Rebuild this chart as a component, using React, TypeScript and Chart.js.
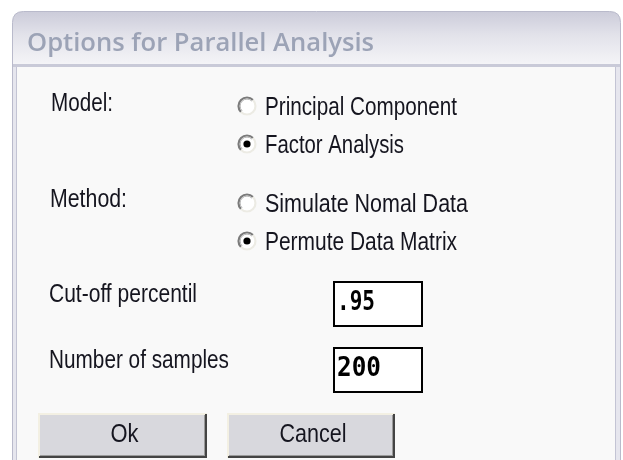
import React, { useEffect, useRef } from "react";
import { Chart, registerables } from "chart.js";

Chart.register(...registerables);

const dialogTitle = "Options for Parallel Analysis";
const groupLabels = ["Model:", "Method:"];
const modelOptions = ["Principal Component", "Factor Analysis"];
const methodOptions = ["Simulate Nomal Data", "Permute Data Matrix"];
const selectedIndex = [1, 1];
const fieldLabels = ["Cut-off percentil", "Number of samples"];
const fieldValues = [".95", "200"];
const buttonLabels = ["Ok", "Cancel"];

const W = 623;
const H = 460;
const UI_FONT = "'Liberation Sans', Arial, sans-serif";

function fitText(
  ctx: CanvasRenderingContext2D,
  text: string,
  x: number,
  baseline: number,
  width: number,
  font: string,
  color: string
) {
  ctx.save();
  ctx.font = font;
  ctx.fillStyle = color;
  ctx.textBaseline = "alphabetic";
  ctx.textAlign = "left";
  const m = ctx.measureText(text).width || 1;
  ctx.translate(x, baseline);
  ctx.scale(width / m, 1);
  ctx.fillText(text, 0, 0);
  ctx.restore();
}

function radio(ctx: CanvasRenderingContext2D, cx: number, cy: number, on: boolean) {
  const r = 9.5;
  ctx.save();
  ctx.beginPath();
  ctx.arc(cx, cy, r, 0, Math.PI * 2);
  ctx.fillStyle = "#ffffff";
  ctx.fill();
  ctx.lineWidth = 2.2;
  ctx.beginPath();
  ctx.arc(cx, cy, r - 1, Math.PI * 0.75, Math.PI * 1.75);
  ctx.strokeStyle = "#7b7b7b";
  ctx.stroke();
  ctx.beginPath();
  ctx.arc(cx, cy, r - 1, Math.PI * -0.25, Math.PI * 0.75);
  ctx.strokeStyle = "#ecebe4";
  ctx.stroke();
  ctx.lineWidth = 1;
  ctx.beginPath();
  ctx.arc(cx, cy, r - 2.6, Math.PI * 0.75, Math.PI * 1.75);
  ctx.strokeStyle = "#b4b4b4";
  ctx.stroke();
  if (on) {
    ctx.beginPath();
    ctx.arc(cx, cy, 3.6, 0, Math.PI * 2);
    ctx.fillStyle = "#000000";
    ctx.fill();
  }
  ctx.restore();
}

function button(ctx: CanvasRenderingContext2D, x0: number, y0: number, x1: number, y1: number) {
  ctx.save();
  ctx.fillStyle = "#d8d8dd";
  ctx.fillRect(x0, y0, x1 - x0, y1 - y0);
  ctx.fillStyle = "#f3f0e3";
  ctx.fillRect(x0, y0, x1 - x0, 2);
  ctx.fillRect(x0, y0, 2, y1 - y0);
  ctx.fillStyle = "#9a9a9a";
  ctx.fillRect(x0 + 2, y1 - 3, x1 - x0 - 2, 1);
  ctx.fillRect(x1 - 3, y0 + 2, 1, y1 - y0 - 2);
  ctx.fillStyle = "#444444";
  ctx.fillRect(x0 + 1, y1 - 2, x1 - x0 - 1, 2);
  ctx.fillRect(x1 - 2, y0 + 1, 2, y1 - y0 - 1);
  ctx.restore();
}

function textBox(ctx: CanvasRenderingContext2D, x0: number, y0: number, x1: number, y1: number) {
  ctx.save();
  ctx.fillStyle = "#ffffff";
  ctx.fillRect(x0, y0, x1 - x0, y1 - y0);
  ctx.strokeStyle = "#000000";
  ctx.lineWidth = 2;
  ctx.strokeRect(x0 + 1, y0 + 1, x1 - x0 - 2, y1 - y0 - 2);
  ctx.restore();
}

const dialogPlugin = {
  id: "dialog",
  beforeDraw(chart: any) {
    const ctx: CanvasRenderingContext2D = chart.ctx;
    ctx.save();
    ctx.fillStyle = "#ffffff";
    ctx.fillRect(0, 0, W, H);

    const L = 12.5, R = 620.5, T = 11.5, rad = 11;
    ctx.beginPath();
    ctx.moveTo(L, H + 5);
    ctx.lineTo(L, T + rad);
    ctx.quadraticCurveTo(L, T, L + rad, T);
    ctx.lineTo(R - rad, T);
    ctx.quadraticCurveTo(R, T, R, T + rad);
    ctx.lineTo(R, H + 5);
    ctx.closePath();
    const g = ctx.createLinearGradient(0, 11, 0, 64);
    g.addColorStop(0, "#cbcbd9");
    g.addColorStop(0.45, "#e2e2ea");
    g.addColorStop(1, "#f4f4f7");
    ctx.fillStyle = g;
    ctx.fill();
    ctx.strokeStyle = "#b9bacb";
    ctx.lineWidth = 1;
    ctx.stroke();

    ctx.fillStyle = "#e6e6ee";
    ctx.fillRect(13, 64, 4, H - 64);
    ctx.fillRect(615, 64, 5, H - 64);
    ctx.fillStyle = "#c3c4d4";
    ctx.fillRect(16, 67, 1, H - 67);
    ctx.fillRect(615, 67, 1, H - 67);

    ctx.fillStyle = "#c9cad8";
    ctx.fillRect(13, 64, 607, 3);

    ctx.fillStyle = "#f9f9f9";
    ctx.fillRect(17, 67, 598, H - 67);

    fitText(ctx, dialogTitle, 27, 51, 347, "600 25px 'Open Sans', 'DejaVu Sans', sans-serif", "#9ca3b6");

    const txt = "#15151f";
    const f = "25px " + UI_FONT;

    fitText(ctx, groupLabels[0], 51, 111, 62, f, txt);
    fitText(ctx, groupLabels[1], 50, 207, 77, f, txt);

    const modelY = [106, 144];
    const modelW = [192, 139];
    modelOptions.forEach((t, i) => {
      radio(ctx, 247, modelY[i], selectedIndex[0] === i);
      fitText(ctx, t, 265, modelY[i] + 9, modelW[i], f, txt);
    });

    const methodY = [203, 241];
    const methodW = [203, 192];
    methodOptions.forEach((t, i) => {
      radio(ctx, 247, methodY[i], selectedIndex[1] === i);
      fitText(ctx, t, 265, methodY[i] + 9, methodW[i], f, txt);
    });

    const fieldTop = [281, 347];
    const fieldLabelW = [148, 180];
    const valueW = [38, 44];
    fieldLabels.forEach((t, i) => {
      fitText(ctx, t, 49, fieldTop[i] + 21, fieldLabelW[i], f, txt);
      textBox(ctx, 333, fieldTop[i], 423, fieldTop[i] + 46);
      fitText(
        ctx,
        fieldValues[i],
        337,
        fieldTop[i] + 29,
        valueW[i],
        "bold 26px 'DejaVu Sans Mono', 'Liberation Mono', monospace",
        "#000000"
      );
    });

    const bx = [
      [38, 207],
      [227, 395],
    ];
    const btW = [28, 67];
    buttonLabels.forEach((t, i) => {
      button(ctx, bx[i][0], 413, bx[i][1], 458);
      const cx = (bx[i][0] + bx[i][1]) / 2 + 2;
      fitText(ctx, t, cx - btW[i] / 2, 442, btW[i], f, txt);
    });

    ctx.restore();
  },
};

export default function App() {
  const ref = useRef<HTMLCanvasElement | null>(null);
  useEffect(() => {
    document.body.style.margin = "0";
    const canvas = ref.current;
    if (!canvas) return;
    const chart = new Chart(canvas, {
      type: "scatter",
      data: { datasets: [] },
      options: {
        animation: false,
        responsive: false,
        maintainAspectRatio: false,
        devicePixelRatio: 1,
        layout: { padding: 0 },
        events: [],
        scales: { x: { display: false }, y: { display: false } },
        plugins: { legend: { display: false }, tooltip: { enabled: false }, title: { display: false } },
      },
      plugins: [dialogPlugin],
    });
    return () => chart.destroy();
  }, []);
  return (
    <div style={{ width: W, height: H, overflow: "hidden" }}>
      <canvas ref={ref} width={W} height={H} style={{ display: "block", width: W, height: H }} />
    </div>
  );
}
